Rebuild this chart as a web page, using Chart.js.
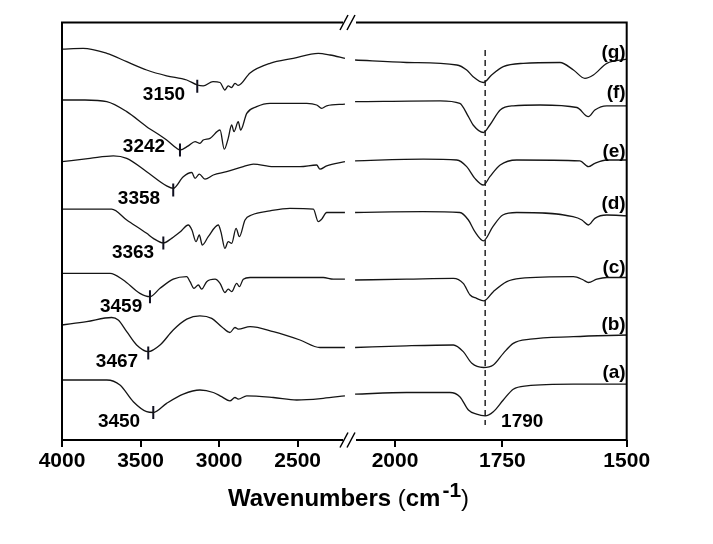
<!DOCTYPE html>
<html><head><meta charset="utf-8">
<script src="https://cdn.jsdelivr.net/npm/chart.js@4/dist/chart.umd.min.js"></script>
<style>html,body{margin:0;padding:0;background:#fff;}canvas{display:block;}</style>
</head><body>
<canvas id="c" width="713" height="544"></canvas>
<script>
// ---------- data (wavenumber cm-1, offset transmittance a.u.) ----------
const tickValues = [4000, 3500, 3000, 2500, 2000, 1750, 1500];
const tickLabels = ['4000', '3500', '3000', '2500', '2000', '1750', '1500'];
const seriesNames = ['(a)', '(b)', '(c)', '(d)', '(e)', '(f)', '(g)'];

const specA = [[4000,14.4],[3715,14.4],[3631,13.2],[3546,9.2],[3461,6.8],[3419,6.6],[3334,8.8],[3228,11.0],[3122,12.0],[3037,11.4],[2984,10.4],[2931,9.4],[2899,10.2],[2878,9.8],[2824,10.6],[2655,10.2],[2506,9.6],[2337,10.0],[2199,10.6],
  [2093,11.0],[1973,11.4],[1872,11.4],[1849,10.4],[1829,7.2],[1810,6.2],[1790,5.8],[1771,6.8],[1748,9.6],[1728,12.2],[1701,13.0],[1607,13.4],[1500,13.4]];
const specB = [[4000,27.6],[3843,28.4],[3684,29.4],[3642,28.8],[3588,26.0],[3525,22.8],[3451,21.2],[3376,22.8],[3292,26.4],[3206,29.0],[3122,29.8],[3047,29.2],[2984,27.2],[2931,25.8],[2899,27.0],[2878,26.6],[2803,27.2],[2655,26.0],[2485,24.0],[2358,22.2],[2199,22.2],
  [2093,22.2],[1973,22.6],[1864,22.8],[1841,21.2],[1821,18.4],[1794,17.4],[1771,18.0],[1748,20.8],[1728,23.2],[1694,24.2],[1607,24.8],[1500,25.2]];
const specC = [[4000,40.0],[3694,40.0],[3610,38.4],[3504,35.2],[3440,34.4],[3376,36.4],[3292,38.6],[3206,39.2],[3185,38.0],[3160,36.4],[3132,37.2],[3111,36.2],[3079,38.0],[3026,38.6],[2994,37.6],[2963,35.4],[2942,36.2],[2920,35.6],[2888,37.6],[2871,36.8],[2846,38.6],[2803,39.0],[2549,39.0],[2337,39.0],[2273,38.6],[2199,38.6],
  [2093,38.4],[1973,38.6],[1864,38.8],[1841,37.6],[1825,34.8],[1810,34.0],[1793,33.4],[1771,35.6],[1741,38.0],[1714,38.8],[1607,39.2],[1587,38.4],[1577,37.8],[1560,38.6],[1540,39.0],[1500,39.0]];
const specD = [[4000,55.4],[3684,55.4],[3588,52.8],[3461,49.6],[3419,48.4],[3355,47.3],[3302,48.4],[3249,49.9],[3196,51.6],[3173,50.4],[3147,47.6],[3126,49.2],[3107,46.8],[3069,48.8],[3005,51.6],[2988,49.9],[2963,46.0],[2942,47.6],[2920,47.2],[2892,50.8],[2871,48.8],[2835,52.8],[2793,54.0],[2676,55.0],[2549,55.6],[2400,55.4],[2369,52.4],[2347,53.0],[2315,54.6],[2199,54.6],
  [2093,54.6],[1935,54.8],[1849,54.6],[1829,52.8],[1814,50.0],[1794,47.8],[1772,51.2],[1749,54.0],[1721,54.6],[1608,53.6],[1590,52.8],[1577,51.6],[1564,53.2],[1540,54.0],[1500,53.8]];
const specE = [[4000,66.8],[3822,67.6],[3673,68.2],[3588,67.6],[3461,64.4],[3334,61.0],[3292,60.4],[3228,63.2],[3174,64.2],[3153,62.8],[3126,63.8],[3090,62.6],[3037,63.6],[2952,64.4],[2846,65.6],[2782,66.2],[2655,65.6],[2485,65.6],[2379,66.0],[2358,65.0],[2315,65.8],[2199,66.8],
  [2093,67.0],[1934,67.4],[1856,67.2],[1833,65.6],[1814,62.8],[1794,61.2],[1779,63.2],[1755,66.0],[1721,67.2],[1594,67.0],[1577,65.6],[1564,66.4],[1540,67.2],[1500,67.2]];
const specF = [[4000,81.6],[3854,81.6],[3715,81.2],[3588,78.8],[3461,75.2],[3334,72.0],[3270,70.0],[3249,69.6],[3196,70.6],[3153,71.6],[3122,71.2],[3101,72.0],[3058,72.4],[2994,74.4],[2967,69.8],[2942,72.4],[2920,75.6],[2905,74.0],[2878,76.4],[2863,74.4],[2824,78.4],[2761,80.0],[2676,80.8],[2442,80.8],[2379,80.4],[2347,79.6],[2315,80.2],[2199,80.6],
  [2093,81.2],[1895,81.4],[1849,80.8],[1829,77.6],[1818,75.6],[1794,73.8],[1779,75.6],[1755,79.2],[1728,80.2],[1674,80.4],[1600,79.8],[1577,77.6],[1564,79.2],[1540,80.2],[1500,80.2]];
const specG = [[4000,93.8],[3866,94.0],[3715,92.8],[3588,90.8],[3461,88.8],[3334,87.4],[3206,86.4],[3139,85.2],[3101,85.0],[3039,86.0],[2994,85.8],[2963,84.0],[2942,85.0],[2920,84.6],[2899,85.6],[2878,85.1],[2803,88.1],[2676,90.4],[2528,91.6],[2369,92.8],[2294,92.4],[2199,91.6],
  [2093,91.2],[1973,90.6],[1856,90.0],[1833,88.8],[1818,87.2],[1794,85.8],[1775,87.6],[1748,89.6],[1708,90.4],[1634,90.6],[1607,88.8],[1584,86.8],[1567,87.6],[1540,90.4],[1500,91.4]];

const peakMarkW = [3419, 3451, 3440, 3355, 3292, 3249, 3139];
const peakMarkT = [6.6, 20.9, 34.4, 47.3, 60.0, 69.6, 84.9];
const peakLabels = ['3450', '3467', '3459', '3363', '3358', '3242', '3150'];
const peakLabelW = [3637, 3650, 3624, 3548, 3510, 3478, 3351];
const peakLabelT = [4.3, 18.7, 31.9, 44.9, 57.8, 70.3, 82.8];
const seriesLabelT = [16.1, 27.6, 41.3, 56.8, 69.2, 83.3, 93.0];
const refWave = 1790;
const refLineT = [93.6, 3.6];
const refLabel = '1790';
const refLabelW = 1710;
const refLabelT = 4.3;

// ---------- broken wavenumber axis ----------
const BREAK_W = 2150;
function toU(w) {
  if (w >= BREAK_W) return (4000 - w) * 0.1571;
  if (w >= 1750) return 333 + (2000 - w) * 0.4293;
  return 440.3 + (1750 - w) * 0.4976;
}
const GAP_U = [281, 294];

function buildSeries(spec) {
  const out = [];
  for (let i = 0; i < spec.length; i++) {
    if (i > 0 && spec[i - 1][0] >= BREAK_W && spec[i][0] < BREAK_W) out.push({ x: toU(BREAK_W), y: null });
    out.push({ x: toU(spec[i][0]), y: spec[i][1] });
  }
  return out;
}

const specs = [specA, specB, specC, specD, specE, specF, specG];
const lineColor = '#151515';
const datasets = specs.map((s, i) => ({
  label: seriesNames[i], data: buildSeries(s), borderColor: lineColor, borderWidth: 1.3,
  pointRadius: 0, cubicInterpolationMode: 'monotone', spanGaps: false, fill: false
}));
datasets.push({
  label: 'ref', data: [{ x: toU(refWave), y: refLineT[0] }, { x: toU(refWave), y: refLineT[1] }],
  borderColor: '#000', borderWidth: 1.3, borderDash: [6, 4], pointRadius: 0, fill: false
});
datasets.push({
  label: 'marks', data: peakMarkW.map((w, i) => ({ x: toU(w), y: peakMarkT[i] })),
  showLine: false, pointStyle: 'line', rotation: 90, pointRadius: 6.5, borderWidth: 2,
  borderColor: '#101020', pointBorderColor: '#101020', pointBorderWidth: 2
});

const FONT = '"Liberation Sans", Arial, Helvetica, sans-serif';

const decor = {
  id: 'decor',
  afterDraw(chart) {
    const ctx = chart.ctx, a = chart.chartArea, xs = chart.scales.x, ys = chart.scales.y;
    const gL = xs.getPixelForValue(GAP_U[0]), gR = xs.getPixelForValue(GAP_U[1]);
    ctx.save();
    ctx.strokeStyle = '#000'; ctx.lineWidth = 2; ctx.lineJoin = 'miter';
    ctx.beginPath();
    ctx.moveTo(gL, a.top); ctx.lineTo(a.left, a.top); ctx.lineTo(a.left, a.bottom); ctx.lineTo(gL, a.bottom);
    ctx.moveTo(gR, a.top); ctx.lineTo(a.right, a.top); ctx.lineTo(a.right, a.bottom); ctx.lineTo(gR, a.bottom);
    ctx.stroke();
    // break marks
    ctx.lineWidth = 1.5;
    [a.top, a.bottom].forEach(yy => {
      ctx.beginPath();
      ctx.moveTo(gL - 3, yy + 7.5); ctx.lineTo(gL + 5, yy - 7.5);
      ctx.moveTo(gL + 4, yy + 7.5); ctx.lineTo(gL + 12, yy - 7.5);
      ctx.stroke();
    });
    // peak labels
    ctx.fillStyle = '#000';
    ctx.font = 'bold 19px ' + FONT;
    ctx.textAlign = 'center'; ctx.textBaseline = 'middle';
    peakLabels.forEach((t, i) => {
      ctx.fillText(t, xs.getPixelForValue(toU(peakLabelW[i])), ys.getPixelForValue(peakLabelT[i]));
    });
    ctx.fillText(refLabel, xs.getPixelForValue(toU(refLabelW)), ys.getPixelForValue(refLabelT));
    // series labels
    ctx.textAlign = 'right';
    seriesNames.forEach((t, i) => {
      ctx.fillText(t, a.right - 1, ys.getPixelForValue(seriesLabelT[i]));
    });
    // axis title with superscript
    const parts = [
      { t: 'Wavenumbers ', f: 'bold 24px ' + FONT, dy: 0, dx: 0 },
      { t: '(', f: '24px ' + FONT, dy: 0, dx: 0 },
      { t: 'cm', f: 'bold 24px ' + FONT, dy: 0, dx: 0 },
      { t: '-1', f: 'bold 21px ' + FONT, dy: -9, dx: 2 },
      { t: ')', f: '24px ' + FONT, dy: 0, dx: 0 }
    ];
    let total = 0;
    parts.forEach(p => { ctx.font = p.f; p.w = ctx.measureText(p.t).width; total += p.w + p.dx; });
    let x = 348.5 - total / 2;
    const base = 506;
    ctx.textAlign = 'left'; ctx.textBaseline = 'alphabetic';
    parts.forEach(p => { ctx.font = p.f; x += p.dx; ctx.fillText(p.t, x, base + p.dy); x += p.w; });
    ctx.restore();
  }
};

new Chart(document.getElementById('c'), {
  type: 'line',
  data: { datasets },
  options: {
    responsive: false, animation: false, devicePixelRatio: 1,
    layout: { padding: { left: 62, right: 713 - 626.7, top: 22.5, bottom: 0 } },
    plugins: { legend: { display: false }, tooltip: { enabled: false } },
    scales: {
      x: {
        type: 'linear', min: 0, max: toU(1500),
        afterBuildTicks: (s) => { s.ticks = tickValues.map(v => ({ value: toU(v) })); },
        afterFit: (s) => { s.height = 104; },
        ticks: {
          autoSkip: false, maxRotation: 0, padding: 2, color: '#000',
          font: { family: FONT, size: 21, weight: 'bold' },
          callback: (v, i) => tickLabels[i]
        },
        grid: { display: true, drawOnChartArea: false, drawTicks: true, tickLength: 7, color: '#000', lineWidth: 2 },
        border: { display: false }
      },
      y: { type: 'linear', display: false, min: 0, max: 100.2 }
    }
  },
  plugins: [decor]
});
</script>
</body></html>
